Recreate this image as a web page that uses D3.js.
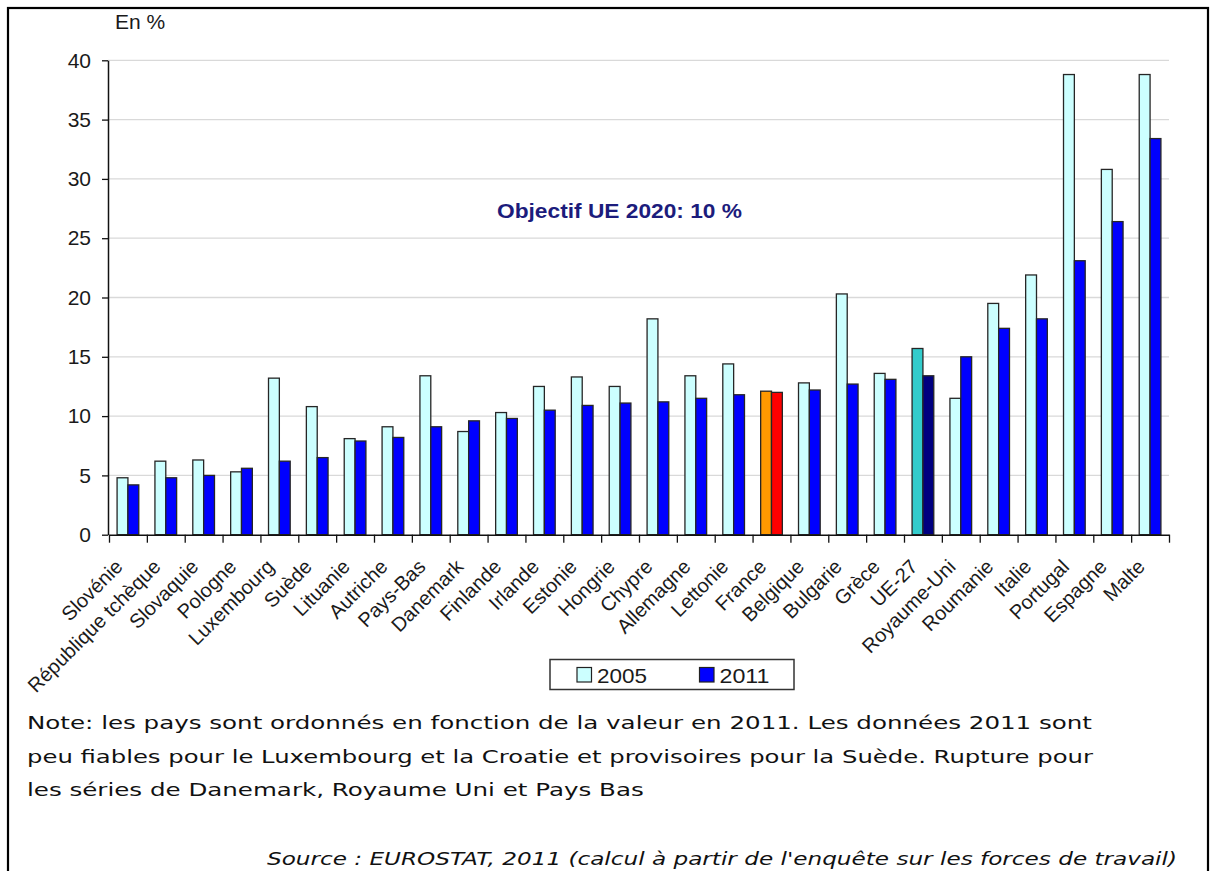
<!DOCTYPE html>
<html><head><meta charset="utf-8">
<script src="https://cdn.jsdelivr.net/npm/d3@7"></script>
<style>html,body{margin:0;padding:0;background:#fff;} svg{display:block;}</style>
</head><body>
<script>
const categories = ["Slovénie","République tchèque","Slovaquie","Pologne","Luxembourg","Suède","Lituanie","Autriche","Pays-Bas","Danemark","Finlande","Irlande","Estonie","Hongrie","Chypre","Allemagne","Lettonie","France","Belgique","Bulgarie","Grèce","UE-27","Royaume-Uni","Roumanie","Italie","Portugal","Espagne","Malte"];
const values2005 = [4.8,6.2,6.3,5.3,13.2,10.8,8.1,9.1,13.4,8.7,10.3,12.5,13.3,12.5,18.2,13.4,14.4,12.1,12.8,20.3,13.6,15.7,11.5,19.5,21.9,38.8,30.8,38.8];
const values2011 = [4.2,4.8,5.0,5.6,6.2,6.5,7.9,8.2,9.1,9.6,9.8,10.5,10.9,11.1,11.2,11.5,11.8,12.0,12.2,12.7,13.1,13.4,15.0,17.4,18.2,23.1,26.4,33.4];
const seriesNames = ["2005","2011"];
const yTicks = [0,5,10,15,20,25,30,35,40];
const yTitle = "En %";
const annotation = "Objectif UE 2020: 10 %";
const noteLines = ["Note: les pays sont ordonnés en fonction de la valeur en 2011. Les données 2011 sont",
  "peu fiables pour le Luxembourg et la Croatie et provisoires pour la Suède. Rupture pour",
  "les séries de Danemark, Royaume Uni et Pays Bas"];
const sourceText = "Source : EUROSTAT, 2011 (calcul à partir de l'enquête sur les forces de travail)";

const colors = {"2005":"#ccffff","2011":"#0000ff"};
const special = {"France":{"2005":"#ff9900","2011":"#ff0000"},"UE-27":{"2005":"#33cccc","2011":"#000080"}};

const W=1213,H=871;
const svg=d3.select("body").append("svg").attr("width",W).attr("height",H);
svg.append("rect").attr("x",8).attr("y",8).attr("width",1200).attr("height",900)
  .attr("fill","none").attr("stroke","#000").attr("stroke-width",2.2);

const x0=109, x1=1169, yTop=60.3, yBot=534.7;
const x=d3.scaleBand().domain(categories).range([x0,x1]).paddingInner(0).paddingOuter(0);
const xs=d3.scaleBand().domain(seriesNames).range([0,x.bandwidth()]).paddingInner(0).paddingOuter(0.745);
const y=d3.scaleLinear().domain([0,40]).range([yBot,yTop]);

// gridlines
svg.append("g").selectAll("line").data(yTicks.filter(d=>d>0)).join("line")
  .attr("x1",x0-1).attr("x2",x1).attr("y1",d=>y(d)).attr("y2",d=>y(d))
  .attr("stroke","#d9d9d9").attr("stroke-width",1.3);

// y axis
const ya=svg.append("g").attr("transform",`translate(${x0-1},0)`)
  .call(d3.axisLeft(y).tickValues(yTicks).tickSize(6).tickPadding(11).tickSizeOuter(0));
ya.select(".domain").attr("stroke","#111").attr("stroke-width",1.5);
ya.selectAll(".tick line").attr("stroke","#111").attr("stroke-width",1.3);
ya.selectAll(".tick text").attr("font-family","Liberation Sans, Arial, sans-serif").attr("font-size",21).attr("fill","#1a1a1a");

// bars
const data=categories.map((c,i)=>({c,vals:[{s:"2005",v:values2005[i]},{s:"2011",v:values2011[i]}]}));
const gb=svg.append("g").selectAll("g").data(data).join("g").attr("transform",d=>`translate(${x(d.c)},0)`);
gb.selectAll("rect").data(d=>d.vals.map(o=>({...o,c:d.c}))).join("rect")
  .attr("x",d=>xs(d.s)).attr("width",xs.bandwidth())
  .attr("y",d=>y(d.v)).attr("height",d=>y(0)-y(d.v))
  .attr("fill",d=>special[d.c]?special[d.c][d.s]:colors[d.s])
  .attr("stroke","#262626").attr("stroke-width",1.3);

// x axis
const xb=d3.scaleLinear().domain([0,categories.length]).range([x0,x1]);
const xa=svg.append("g").attr("transform",`translate(0,${yBot})`)
  .call(d3.axisBottom(xb).tickValues(d3.range(categories.length+1)).tickFormat("").tickSize(8).tickSizeOuter(0));
xa.select(".domain").attr("stroke","#111").attr("stroke-width",1.5);
xa.selectAll(".tick line").attr("stroke","#111").attr("stroke-width",1.3);

// x labels
svg.append("g").selectAll("text").data(categories).join("text")
  .attr("transform",d=>`translate(${x(d)+x.bandwidth()/2-4},568) rotate(-45)`)
  .attr("text-anchor","end").attr("font-family","Liberation Sans, Arial, sans-serif")
  .attr("font-size",20).attr("fill","#1a1a1a").text(d=>d);

// y title
svg.append("text").attr("x",115).attr("y",29).attr("font-family","Liberation Sans, Arial, sans-serif")
  .attr("font-size",21).attr("fill","#1a1a1a").text(yTitle);

// annotation
svg.append("text").attr("x",497).attr("y",218).attr("font-family","Liberation Sans, Arial, sans-serif")
  .attr("font-weight","bold").attr("font-size",21).attr("fill","#1c1c7c")
  .attr("textLength",245).attr("lengthAdjust","spacingAndGlyphs").text(annotation);

// legend
const lg=svg.append("g");
lg.append("rect").attr("x",550).attr("y",659.5).attr("width",244).attr("height",30)
  .attr("fill","#fff").attr("stroke","#333").attr("stroke-width",1.5);
const li=lg.selectAll("g").data(seriesNames).join("g")
  .attr("transform",(d,i)=>`translate(${i===0?577:699.5},667.5)`);
li.append("rect").attr("width",14.5).attr("height",14.5).attr("fill",d=>colors[d])
  .attr("stroke","#222").attr("stroke-width",1.2);
li.append("text").attr("x",20).attr("y",15.5).attr("font-family","Liberation Sans, Arial, sans-serif")
  .attr("font-size",21).attr("fill","#1a1a1a")
  .attr("textLength",50).attr("lengthAdjust","spacingAndGlyphs").text(d=>d);

// note
const ng=svg.append("g");
const nl=ng.selectAll("text").data(noteLines).join("text")
  .attr("x",27).attr("y",(d,i)=>729+i*33.5)
  .attr("font-family","DejaVu Sans, Verdana, sans-serif").attr("font-size",18.5).attr("fill","#111").text(d=>d);
const n0=nl.nodes()[0].getComputedTextLength();
const sx=1065/n0;
nl.each(function(d,i){
  const w=this.getComputedTextLength();
  const target = i===0?1065:(i===1?1066:w*sx);
  d3.select(this).attr("textLength",target).attr("lengthAdjust","spacingAndGlyphs");
});
svg.append("text").attr("x",267).attr("y",865)
  .attr("font-family","DejaVu Sans, Verdana, sans-serif").attr("font-style","italic")
  .attr("font-size",18).attr("fill","#111")
  .attr("textLength",910).attr("lengthAdjust","spacingAndGlyphs").text(sourceText);
</script>
</body></html>
